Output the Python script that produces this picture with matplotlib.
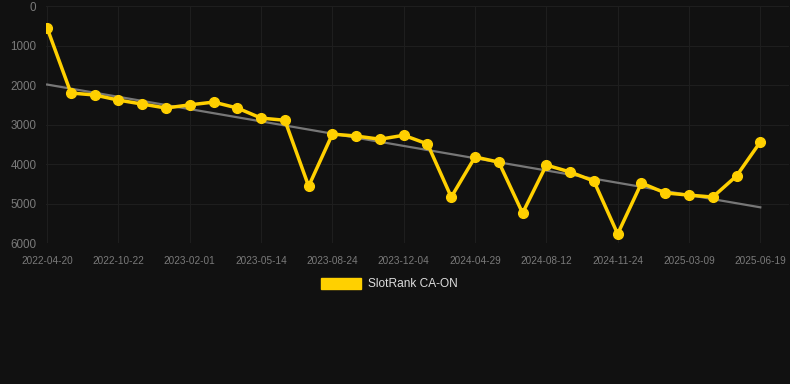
import numpy as np
import matplotlib.pyplot as plt
from matplotlib.patches import Patch

plt.rcParams['font.family'] = ['Liberation Sans', 'DejaVu Sans']

# rank per date, evenly spaced points (only every third date is labelled)
rangos = [557, 2200, 2250, 2380, 2480, 2580, 2500, 2430, 2580, 2835, 2890,
          4560, 3240, 3290, 3370, 3270, 3490, 4835, 3820, 3950, 5240, 4025,
          4200, 4430, 5770, 4480, 4730, 4785, 4835, 4300, 3440]
fechas = ['2022-04-20', '2022-10-22', '2023-02-01', '2023-05-14', '2023-08-24',
          '2023-12-04', '2024-04-29', '2024-08-12', '2024-11-24', '2025-03-09',
          '2025-06-19']
yticks = [0, 1000, 2000, 3000, 4000, 5000, 6000]

fondo = '#111111'
amarillo = '#FFD000'

x = np.arange(len(rangos))
m, b = np.polyfit(x, rangos, 1)

fig = plt.figure(figsize=(7.9, 3.84), dpi=100, facecolor=fondo)
ax = fig.add_axes([0.0585, 0.367, 0.94, 0.617])
ax.set_facecolor(fondo)

ax.plot(x, m * x + b, color='#777777', lw=1.6, zorder=2)
ax.plot(x, rangos, color=amarillo, lw=2.5, marker='o', markersize=7, zorder=3)

ax.set_ylim(6000, 0)
ax.set_xlim(-0.04, 31.2)
ax.set_yticks(yticks)
ax.set_xticks(x[::3])
ax.set_xticklabels(fechas)
ax.grid(True, color='#1e1e1e', lw=0.8)
ax.set_axisbelow(True)
for s in ax.spines.values():
    s.set_visible(False)
ax.tick_params(axis='y', colors='#7a7a7a', labelsize=8.4, length=0, pad=7)
ax.tick_params(axis='x', colors='#7a7a7a', labelsize=7.2, length=0, pad=9)

fig.legend(handles=[Patch(color=amarillo, label='SlotRank CA-ON')],
           loc='center', bbox_to_anchor=(0.493, 0.26), frameon=False,
           handlelength=3.4, handleheight=1.0, handletextpad=0.6,
           labelcolor='#dddddd', fontsize=8.6)

fig.savefig('out.png', dpi=100, facecolor=fondo)
